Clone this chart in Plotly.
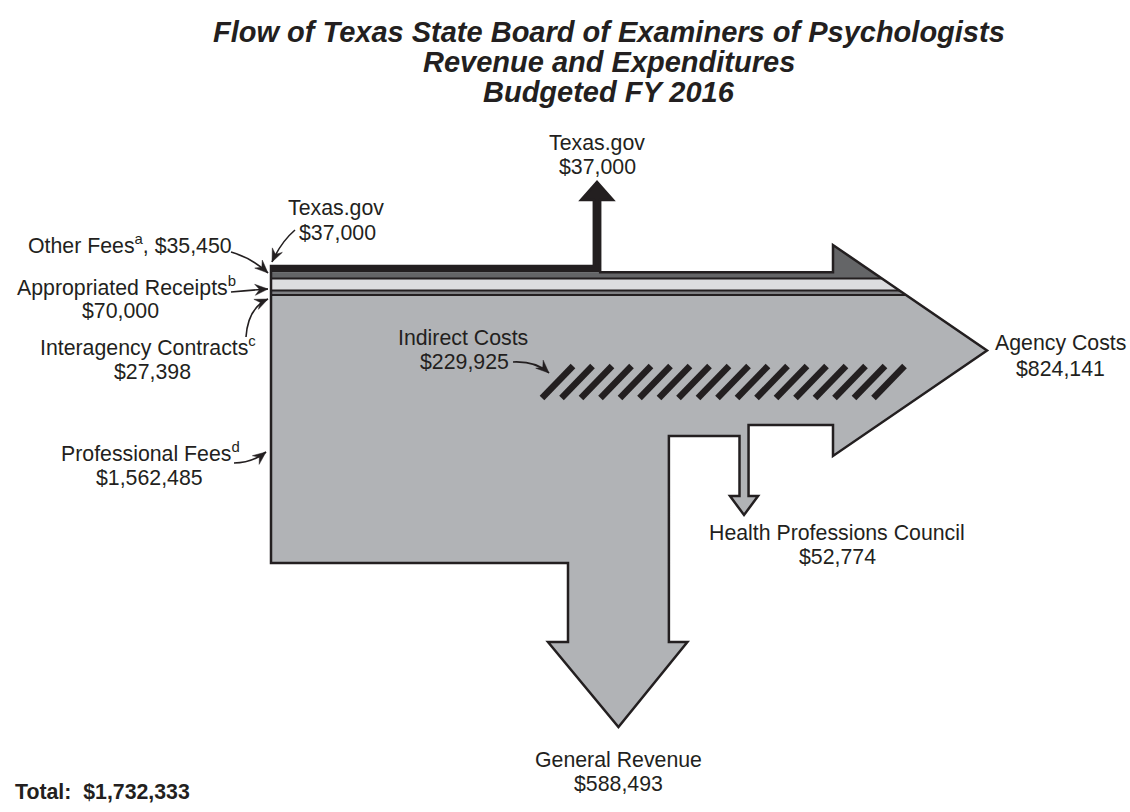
import plotly.graph_objects as go
import math

# ---------------- data ----------------
source_names = ["Texas.gov", "Other Fees", "Appropriated Receipts", "Interagency Contracts", "Professional Fees"]
source_values = [37000, 35450, 70000, 27398, 1562485]
source_notes = ["", "a", "b", "c", "d"]

output_names = ["Texas.gov", "Indirect Costs", "Agency Costs", "Health Professions Council", "General Revenue"]
output_values = [37000, 229925, 824141, 52774, 588493]

total_value = 1732333

title_lines = ["Flow of Texas State Board of Examiners of Psychologists",
               "Revenue and Expenditures",
               "Budgeted FY 2016"]

# ---------------- styling / layout constants ----------------
W, H = 1130, 812
FONT = "Liberation Sans, Arial, Helvetica, sans-serif"
INK = "#231f20"
BAND_COLORS = [INK, "#646567", "#dcdddf", "#808184", "#b1b3b6"]
MAIN = BAND_COLORS[-1]

def money(v):
    return "${:,}".format(v)

XL, Y0 = 271.0, 266.0
BODY_PX = 297.0                 # pixel height of the full inflow
k = BODY_PX / total_value       # px per dollar

# band boundaries (from data)
bounds = [Y0]
for v in source_values:
    bounds.append(bounds[-1] + v * k)
YB = bounds[-1]

# output widths (from data)
tx_w = output_values[0] * k
hpc_w = output_values[3] * k
gr_w = output_values[4] * k

TX_C = 597.0
TX_L, TX_R = TX_C - tx_w / 2, TX_C + tx_w / 2
GR_L = 568.0
GR_R = GR_L + gr_w
GR_C = (GR_L + GR_R) / 2
HPC_L = 739.5
HPC_R = HPC_L + hpc_w
HPC_C = (HPC_L + HPC_R) / 2

# arrowhead of the agency-cost arrow
AH_X, AH_TOP, AH_BOT = 833.0, 245.0, 456.0
TIP = (987.0, (AH_TOP + AH_BOT) / 2)
BODY_BOT = 425.0
GR_TOP = 436.0

def diag_x(y):
    return AH_X + (y - AH_TOP) * (TIP[0] - AH_X) / (TIP[1] - AH_TOP)

def path(pts, close=True):
    s = "M " + " L ".join(f"{x:.2f},{y:.2f}" for x, y in pts)
    return s + (" Z" if close else "")

shapes = []

outline = [
    (XL, bounds[0]), (TX_L, bounds[0]), (TX_L, 200), (TX_C - 16, 200), (TX_C, 182),
    (TX_C + 16, 200), (TX_R, 200), (TX_R, bounds[1]), (AH_X, bounds[1]), (AH_X, AH_TOP),
    TIP, (AH_X, AH_BOT), (AH_X, BODY_BOT), (HPC_R, BODY_BOT), (HPC_R, 496),
    (HPC_R + 9.5, 496), (HPC_C, 515), (HPC_L - 9.5, 496), (HPC_L, 496), (HPC_L, GR_TOP),
    (GR_R, GR_TOP), (GR_R, 642), (GR_R + 18.5, 642), (GR_C, 727), (GR_L - 20, 642),
    (GR_L, 642), (GR_L, YB), (XL, YB),
]
shapes.append(dict(type="path", path=path(outline), fillcolor=MAIN, line=dict(width=0), layer="above"))

# Texas.gov black band + stem
tx_poly = [(XL, bounds[0]), (TX_L, bounds[0]), (TX_L, 200), (TX_C - 16, 200), (TX_C, 182),
           (TX_C + 16, 200), (TX_R, 200), (TX_R, bounds[1]), (XL, bounds[1])]
shapes.append(dict(type="path", path=path(tx_poly), fillcolor=BAND_COLORS[0], line=dict(width=0)))

# Other fees band (includes top of arrowhead)
of_poly = [(XL, bounds[1]), (AH_X, bounds[1]), (AH_X, AH_TOP), (diag_x(bounds[2]), bounds[2]), (XL, bounds[2])]
shapes.append(dict(type="path", path=path(of_poly), fillcolor=BAND_COLORS[1], line=dict(width=0)))
for i in (2, 3):
    poly = [(XL, bounds[i]), (diag_x(bounds[i]), bounds[i]), (diag_x(bounds[i + 1]), bounds[i + 1]), (XL, bounds[i + 1])]
    shapes.append(dict(type="path", path=path(poly), fillcolor=BAND_COLORS[i], line=dict(width=0)))
# separator lines
for i in (2, 3, 4):
    shapes.append(dict(type="path", path=path([(XL, bounds[i]), (diag_x(bounds[i]), bounds[i])], close=False),
                       line=dict(color=INK, width=2)))

# indirect-cost hatch
N_STRIPES = 18
for i in range(N_STRIPES):
    x0 = 542 + 19.5 * i
    shapes.append(dict(type="path", path=path([(x0, 398), (x0 + 31, 366)], close=False),
                       line=dict(color=INK, width=6.5)))

# outline on top
shapes.append(dict(type="path", path=path(outline), fillcolor="rgba(0,0,0,0)", line=dict(color=INK, width=2.5)))

# curved label arrows
def curved_arrow(p0, pc, p1, hl=13, hw=11):
    shapes.append(dict(type="path",
                       path=f"M {p0[0]},{p0[1]} Q {pc[0]},{pc[1]} {p1[0]},{p1[1]}",
                       line=dict(color=INK, width=1.6)))
    dx, dy = p1[0] - pc[0], p1[1] - pc[1]
    n = math.hypot(dx, dy)
    ux, uy = dx / n, dy / n
    px, py = -uy, ux
    bx, by = p1[0] - ux * hl, p1[1] - uy * hl
    nx, ny = p1[0] - ux * hl * 0.65, p1[1] - uy * hl * 0.65
    pts = [p1, (bx + px * hw / 2, by + py * hw / 2), (nx, ny), (bx - px * hw / 2, by - py * hw / 2)]
    shapes.append(dict(type="path", path=path(pts), fillcolor=INK, line=dict(color=INK, width=0.5)))

curved_arrow((295, 230), (281, 242), (272, 262))
curved_arrow((231, 252), (252, 258), (268, 273))
curved_arrow((231, 292), (252, 290), (268, 289))
curved_arrow((246, 337), (248, 308), (268, 299))
curved_arrow((234, 463), (252, 463), (266, 452))
curved_arrow((513, 362), (536, 361), (549, 373))

# ---------------- text ----------------
ann = []
LBL = 21.3
def txt(s, x, y, size=LBL, bold=False, italic=False, xanchor="center"):
    ann.append(dict(text=s, x=x, y=y, xref="x", yref="y", showarrow=False, xanchor=xanchor, yanchor="middle",
                    font=dict(family=FONT, size=size, color=INK,
                              weight="bold" if bold else "normal",
                              style="italic" if italic else "normal")))

for line, yy in zip(title_lines, [32, 62, 92]):
    txt(line, 609, yy, size=29, bold=True, italic=True)

txt(output_names[0], TX_C, 143)
txt(money(output_values[0]), TX_C, 167)

txt(source_names[0], 336, 208)
txt(money(source_values[0]), 337, 233)

txt(f"{source_names[1]}<sup>{source_notes[1]}</sup>, {money(source_values[1])}", 130, 244)
txt(f"{source_names[2]}<sup>{source_notes[2]}</sup>", 126, 286)
txt(money(source_values[2]), 120, 311)
txt(f"{source_names[3]}<sup>{source_notes[3]}</sup>", 148, 346)
txt(money(source_values[3]), 152, 372)
txt(f"{source_names[4]}<sup>{source_notes[4]}</sup>", 150, 452)
txt(money(source_values[4]), 149, 478)

txt(output_names[1], 463, 338)
txt(money(output_values[1]), 464, 362)
txt(output_names[2], 1060, 343)
txt(money(output_values[2]), 1060, 369)
txt(output_names[3], 837, 533)
txt(money(output_values[3]), 837, 557)
txt(output_names[4], 618, 760)
txt(money(output_values[4]), 618, 784)

txt(f"Total:  {money(total_value)}", 13, 792, bold=True, xanchor="left")

fig = go.Figure()
fig.add_trace(go.Scatter(x=[0, W], y=[0, H], mode="markers", marker=dict(opacity=0),
                         hoverinfo="skip", showlegend=False))
fig.update_layout(
    width=W, height=H, autosize=False,
    margin=dict(l=0, r=0, t=0, b=0, pad=0),
    paper_bgcolor="white", plot_bgcolor="white",
    xaxis=dict(range=[0, W], visible=False, fixedrange=True),
    yaxis=dict(range=[H, 0], visible=False, fixedrange=True),
    shapes=shapes, annotations=ann, showlegend=False,
)
page_fix = ("document.body.style.margin='0px';"
            "document.body.style.overflow='hidden';"
            "document.documentElement.style.overflow='hidden';")
fig.write_html("out.html", config=dict(displayModeBar=False), post_script=page_fix)
